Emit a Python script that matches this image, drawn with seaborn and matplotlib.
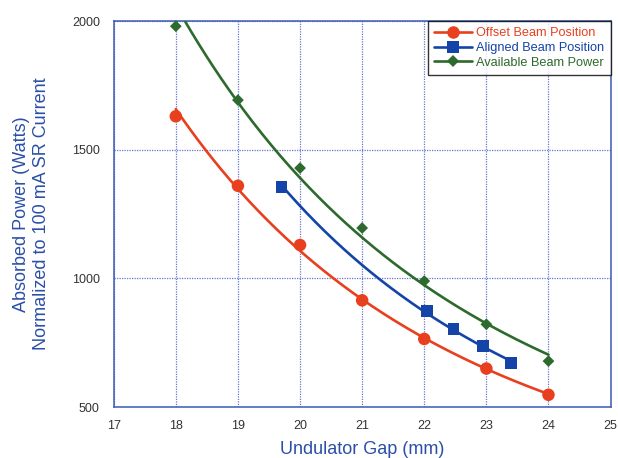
import numpy as np
import pandas as pd
import matplotlib
matplotlib.use("Agg")
import matplotlib.pyplot as plt
from matplotlib.lines import Line2D
import seaborn as sns

# Values
offset_gap = [18, 19, 20, 21, 22, 23, 24]
offset_power = [1630, 1360, 1130, 915, 765, 650, 548]

aligned_gap = [19.7, 22.05, 22.47, 22.94, 23.4]
aligned_power = [1356, 873, 803, 737, 671]

available_gap = [18, 19, 20, 21, 22, 23, 24]
available_power = [1980, 1693, 1429, 1196, 990, 822, 679]

x_ticks = [17, 18, 19, 20, 21, 22, 23, 24, 25]
y_ticks = [500, 1000, 1500, 2000]

series = [
    ("Offset Beam Position", offset_gap, offset_power, "#e8401f", "o", 9),
    ("Aligned Beam Position", aligned_gap, aligned_power, "#1444a8", "s", 8.5),
    ("Available Beam Power", available_gap, available_power, "#2d6a2d", "D", 6),
]

sns.set_style("white")
plt.rcParams["font.family"] = ["Liberation Sans", "DejaVu Sans"]

axis_blue = "#3a5ab4"

fig = plt.figure(figsize=(6.18, 4.58), dpi=100)
ax = fig.add_axes([0.184, 0.111, 0.804, 0.843])

handles = []
for name, gx, py, color, marker, ms in series:
    gx = np.array(gx, dtype=float)
    py = np.array(py, dtype=float)
    # power-law trendline fitted to the points
    b, a = np.polyfit(np.log(gx), np.log(py), 1)
    grid = np.linspace(gx.min(), gx.max(), 200)
    fit = pd.DataFrame({"gap": grid, "power": np.exp(a) * grid ** b})
    sns.lineplot(data=fit, x="gap", y="power", ax=ax, color=color,
                 linewidth=1.9, zorder=3)
    pts = pd.DataFrame({"gap": gx, "power": py})
    sns.scatterplot(data=pts, x="gap", y="power", ax=ax, color=color,
                    marker=marker, s=ms ** 2, edgecolor="none", zorder=4,
                    clip_on=False)
    handles.append(Line2D([0], [0], color=color, lw=1.9, marker=marker,
                          markersize=ms, markeredgewidth=0, label=name))

ax.set_xlim(17, 25)
ax.set_ylim(500, 2000)
ax.set_xticks(x_ticks)
ax.set_yticks(y_ticks)
ax.tick_params(axis="both", labelsize=9, colors="#333333", length=0)
ax.tick_params(axis="y", pad=10)
ax.tick_params(axis="x", pad=9)
ax.grid(True, color="#6677cc", linestyle=(0, (1, 1)), linewidth=0.9)
for sp in ax.spines.values():
    sp.set_color(axis_blue)
    sp.set_linewidth(1.1)

ax.set_xlabel("Undulator Gap (mm)", fontsize=13, color="#2b4fa8", labelpad=7)
ax.set_ylabel("Absorbed Power (Watts)\nNormalized to 100 mA SR Current",
              fontsize=13, color="#2b4fa8", labelpad=16, linespacing=1.2)

leg = ax.legend(handles=handles, loc="upper right", borderaxespad=0,
                fontsize=9.2, frameon=True, fancybox=False, handlelength=3.0,
                handletextpad=0.3, borderpad=0.5, labelspacing=0.2)
leg.get_frame().set_edgecolor("black")
leg.get_frame().set_linewidth(1.0)
for txt, (_, _, _, color, _, _) in zip(leg.get_texts(), series):
    txt.set_color(color)

fig.savefig("out.png", dpi=100)
